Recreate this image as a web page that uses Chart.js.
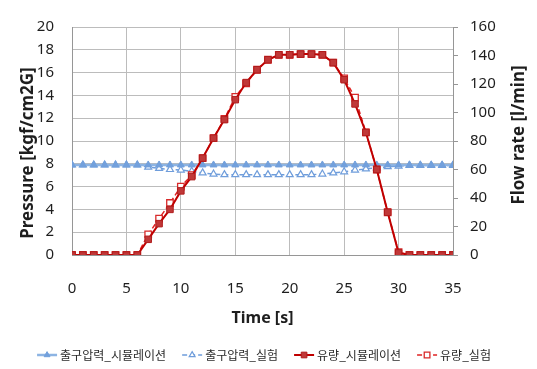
<!DOCTYPE html>
<html>
<head>
<meta charset="utf-8">
<script src="https://cdn.jsdelivr.net/npm/chart.js@4.4.1/dist/chart.umd.min.js"></script>
<style>
  html, body { margin: 0; padding: 0; background: #ffffff; }
  canvas { display: block; }
</style>
</head>
<body>
<canvas id="chart" width="537" height="369"></canvas>
<script>
// Time axis [s]
const timeSec = [0, 1, 2, 3, 4, 5, 6, 7, 8, 9, 10, 11, 12, 13, 14, 15, 16, 17,
  18, 19, 20, 21, 22, 23, 24, 25, 26, 27, 28, 29, 30, 31, 32, 33, 34, 35];

// Outlet pressure [kgf/cm2G]
const pressureSim = [7.9, 7.9, 7.9, 7.9, 7.9, 7.9, 7.9, 7.9, 7.9, 7.9, 7.9, 7.9,
  7.9, 7.9, 7.9, 7.9, 7.9, 7.9, 7.9, 7.9, 7.9, 7.9, 7.9, 7.9, 7.9, 7.9, 7.9, 7.9,
  7.9, 7.9, 7.9, 7.9, 7.9, 7.9, 7.9, 7.9];
const pressureExp = [7.9, 7.9, 7.9, 7.9, 7.9, 7.9, 7.9, 7.7, 7.6, 7.5, 7.45, 7.35,
  7.2, 7.1, 7.05, 7.05, 7.05, 7.05, 7.05, 7.05, 7.05, 7.05, 7.05, 7.1, 7.2, 7.3,
  7.45, 7.55, 7.65, 7.75, 7.8, 7.85, 7.85, 7.85, 7.85, 7.85];

// Flow rate [l/min]
const flowSim = [0, 0, 0, 0, 0, 0, 0, 11, 22, 32, 45, 55, 68, 82, 95, 109, 121,
  130, 137, 140.5, 140.5, 141, 141, 140.5, 135, 123, 106, 86, 60, 30, 1.5,
  0, 0, 0, 0, 0];
const flowExp = [0, 0, 0, 0, 0, 0, 0, 14.5, 25.5, 36.5, 48, 56, 68, 82, 95.5, 111,
  120.5, 130, 137, 140.5, 140.5, 141, 141, 140.5, 135, 124, 110.5, 86, 60, 30, 2,
  0, 0, 0, 0, 0];

// Tick values
const timeTicks = [0, 5, 10, 15, 20, 25, 30, 35];
const pressureTicks = [0, 2, 4, 6, 8, 10, 12, 14, 16, 18, 20];
const flowTicks = [0, 20, 40, 60, 80, 100, 120, 140, 160];

const seriesNames = ['출구압력_시뮬레이션', '출구압력_실험', '유량_시뮬레이션', '유량_실험'];
const titleTime = 'Time [s]';
const titlePressure = 'Pressure [kgf/cm2G]';
const titleFlow = 'Flow rate [l/min]';

const pts = (ys) => timeSec.map((t, i) => ({ x: t, y: ys[i] }));

const GRID = 'rgb(188,188,188)';
const AXIS = 'rgb(150,150,150)';
const TEXT = '#1e1e1e';
const tickFont = { family: '"Noto Sans", sans-serif', size: 15 };

// lower "order" is painted on top: simulation markers sit above the test ones
const datasets = [
  {
    label: seriesNames[0], data: pts(pressureSim), yAxisID: 'y',
    borderColor: '#8db4e3', borderWidth: 2.5,
    pointStyle: 'triangle', pointRadius: 4, pointBorderWidth: 1,
    pointBackgroundColor: '#72a0dc', pointBorderColor: '#72a0dc',
    legendDash: [], order: 3
  },
  {
    label: seriesNames[1], data: pts(pressureExp), yAxisID: 'y',
    borderColor: '#6f9ddb', borderWidth: 1.5, borderDash: [5, 3],
    pointStyle: 'triangle', pointRadius: 4, pointBorderWidth: 1.2,
    pointBackgroundColor: '#ffffff', pointBorderColor: '#6f9ddb',
    legendDash: [5, 3], order: 4
  },
  {
    label: seriesNames[2], data: pts(flowSim), yAxisID: 'y1',
    borderColor: '#c00000', borderWidth: 2,
    pointStyle: 'rect', pointRadius: 4.6, pointBorderWidth: 1,
    pointBackgroundColor: '#c03838', pointBorderColor: '#b01c1c',
    legendDash: [], order: 1
  },
  {
    label: seriesNames[3], data: pts(flowExp), yAxisID: 'y1',
    borderColor: '#e02222', borderWidth: 1.5, borderDash: [5, 3],
    pointStyle: 'rect', pointRadius: 4.6, pointBorderWidth: 1.3,
    pointBackgroundColor: '#ffffff', pointBorderColor: '#d82a2a',
    legendDash: [5, 3], order: 2
  }
];

// Axis titles and the legend row are painted after the chart
const decorations = {
  id: 'decorations',
  afterDraw(chart) {
    const ctx = chart.ctx;
    const area = chart.chartArea;
    ctx.save();
    ctx.fillStyle = TEXT;
    ctx.textAlign = 'center';
    ctx.textBaseline = 'middle';
    ctx.font = 'bold 16px "Noto Sans", sans-serif';
    ctx.fillText(titleTime, (area.left + area.right) / 2, area.bottom + 63);

    ctx.font = 'bold 17px "Noto Sans", sans-serif';
    ctx.save();
    ctx.translate(28.5, area.top + 126);
    ctx.rotate(-Math.PI / 2);
    ctx.fillText(titlePressure, 0, 0);
    ctx.restore();

    ctx.save();
    ctx.translate(519.5, area.top + 108);
    ctx.rotate(-Math.PI / 2);
    ctx.fillText(titleFlow, 0, 0);
    ctx.restore();

    // legend
    ctx.font = '12px "Noto Sans CJK KR", sans-serif';
    const sampleW = 20, gap = 3, spacing = 16;
    const widths = chart.data.datasets.map(ds => sampleW + gap + ctx.measureText(ds.label).width);
    const total = widths.reduce((a, b) => a + b, 0) + spacing * (widths.length - 1);
    let x = 264 - total / 2;
    const y = 355;
    chart.data.datasets.forEach((ds, i) => {
      ctx.save();
      ctx.strokeStyle = ds.borderColor;
      ctx.lineWidth = ds.borderWidth;
      ctx.setLineDash(ds.legendDash);
      ctx.beginPath();
      ctx.moveTo(x, y);
      ctx.lineTo(x + sampleW, y);
      ctx.stroke();
      ctx.setLineDash([]);
      ctx.fillStyle = ds.pointBackgroundColor;
      ctx.strokeStyle = ds.pointBorderColor;
      ctx.lineWidth = ds.pointBorderWidth;
      Chart.helpers.drawPoint(ctx, {
        pointStyle: ds.pointStyle, radius: ds.pointRadius - 0.6,
        rotation: 0, borderWidth: ds.pointBorderWidth
      }, x + sampleW / 2, y);
      ctx.restore();
      ctx.fillStyle = '#2a2a2a';
      ctx.textAlign = 'left';
      ctx.fillText(ds.label, x + sampleW + gap, y);
      x += widths[i] + spacing;
    });
    ctx.restore();
  }
};

new Chart(document.getElementById('chart'), {
  type: 'line',
  data: { datasets },
  options: {
    responsive: false,
    animation: false,
    events: [],
    layout: { padding: { top: 15, bottom: 74, left: 0, right: 0 } },
    plugins: { legend: { display: false }, tooltip: { enabled: false } },
    elements: { line: { tension: 0 } },
    scales: {
      x: {
        type: 'linear', min: 0, max: 35,
        afterBuildTicks: (s) => { s.ticks = timeTicks.map(v => ({ value: v })); },
        afterFit: (s) => { s.height = 40; },
        grid: { color: GRID, drawTicks: false },
        border: { color: AXIS },
        ticks: { color: TEXT, font: tickFont, padding: 25 }
      },
      y: {
        position: 'left', min: 0, max: 20,
        afterBuildTicks: (s) => { s.ticks = pressureTicks.map(v => ({ value: v })); },
        afterFit: (s) => { s.width = 72; },
        grid: { color: GRID, drawTicks: false },
        border: { color: AXIS },
        ticks: { color: TEXT, font: tickFont, padding: 18 }
      },
      y1: {
        position: 'right', min: 0, max: 160,
        afterBuildTicks: (s) => { s.ticks = flowTicks.map(v => ({ value: v })); },
        afterFit: (s) => { s.width = 84; },
        grid: { drawOnChartArea: false, drawTicks: true, tickLength: 5, color: AXIS },
        border: { color: AXIS },
        ticks: { color: TEXT, font: tickFont, padding: 12 }
      }
    }
  },
  plugins: [decorations]
});
</script>
</body>
</html>
